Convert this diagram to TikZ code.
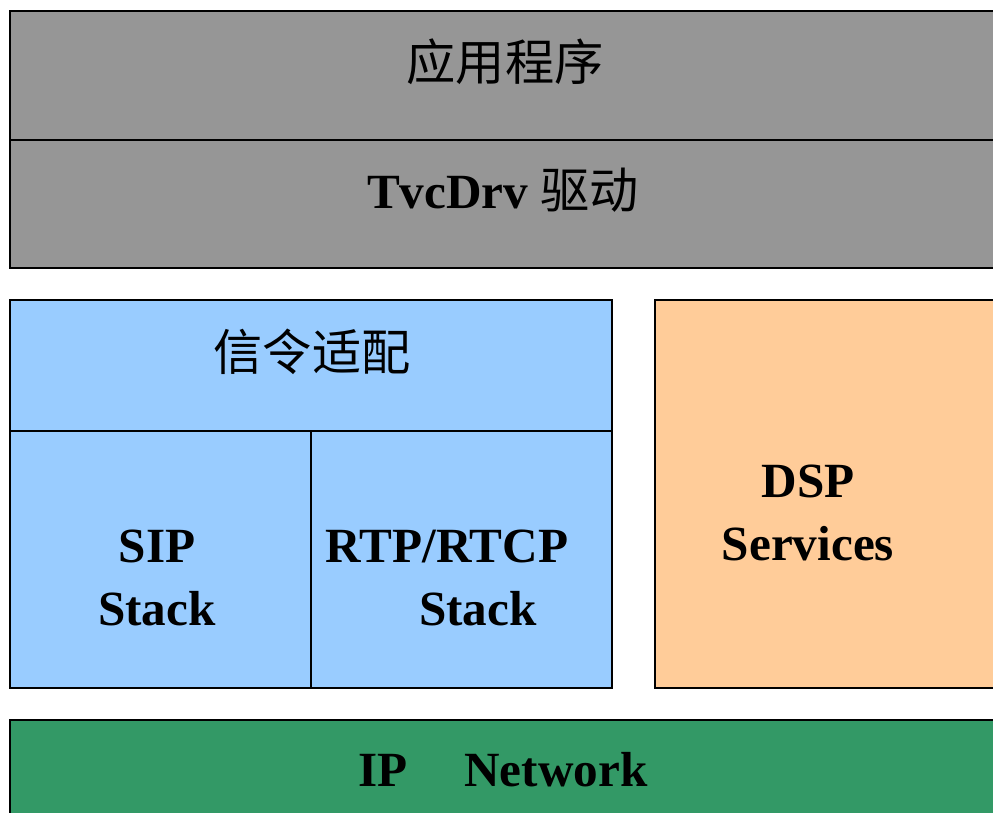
\documentclass[tikz,border=0pt]{standalone}
\usepackage{fontspec}
\setmainfont{Liberation Serif}
\newfontfamily\cjk{Noto Sans CJK SC}
\definecolor{layergray}{HTML}{969696}
\definecolor{layerblue}{HTML}{99CCFF}
\definecolor{layerorange}{HTML}{FFCC99}
\definecolor{layergreen}{HTML}{339966}
\tikzset{
  layer/.style={draw=black, line width=1.5pt, inner sep=0pt, rectangle},
  lbl/.style={inner sep=0pt, font=\fontsize{28}{36}\selectfont, align=center}
}
\begin{document}
\begin{tikzpicture}[x=0.02cm,y=-0.02cm]
\useasboundingbox (0,0) rectangle (993,812);
\clip (0,0) rectangle (993,812);
% application and driver
\node[layer, fill=layergray, minimum width=20cm, minimum height=2.58cm] (app) at (510,75.5) {};
\node[layer, fill=layergray, minimum width=20cm, minimum height=2.56cm] (drv) at (510,204) {};
% signalling and stacks
\node[layer, fill=layerblue, minimum width=12.04cm, minimum height=2.62cm] (sig) at (311,365.5) {};
\node[layer, fill=layerblue, minimum width=6.02cm, minimum height=5.14cm] (sip) at (160.5,559.5) {};
\node[layer, fill=layerblue, minimum width=6.02cm, minimum height=5.14cm] (rtp) at (461.5,559.5) {};
% dsp
\node[layer, fill=layerorange, minimum width=7.1cm, minimum height=7.76cm] (dsp) at (832.5,494) {};
% network
\node[layer, fill=layergreen, minimum width=20cm, minimum height=2.2cm] (net) at (510,775) {};
% labels
\node[lbl] (apptxt) at (505,62) {\cjk 应用程序};
\node[lbl] (drvtxt) at (503,190) {\textbf{TvcDrv} \cjk 驱动};
\node[lbl] (sigtxt) at (312,352) {\cjk 信令适配};
\node[lbl] (siptxt) at (157,578) {\textbf{SIP}\\\textbf{Stack}};
\node[lbl, align=left] (rtptxt) at (447,578) {\textbf{RTP/RTCP}\\\hspace{1.9em}\textbf{Stack}};
\node[lbl] (dsptxt) at (808,513) {\textbf{DSP}\\\textbf{Services}};
\node[lbl] (nettxt) at (503,770) {\textbf{IP}\hspace{1.15em}\textbf{Network}};
\end{tikzpicture}
\end{document}
